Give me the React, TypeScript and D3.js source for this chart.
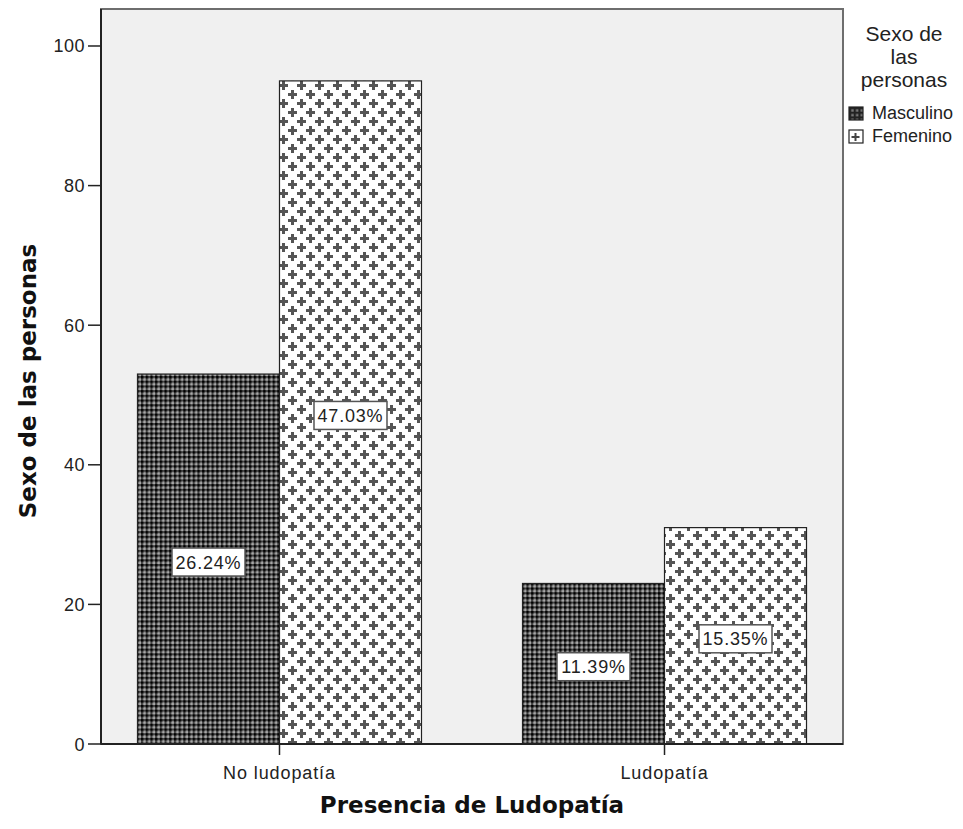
import React from "react";
import * as d3 from "d3";

const categories = ["No ludopatía", "Ludopatía"];
const series = ["Masculino", "Femenino"];
const masculino = [53, 23];
const femenino = [95, 31];
const labelsMasc = ["26.24%", "11.39%"];
const labelsFem = ["47.03%", "15.35%"];
const yTicks = [0, 20, 40, 60, 80, 100];
const legendTitle = ["Sexo de", "las", "personas"];

const W = 963, H = 829;
const L = 101, R = 843, T = 9, B = 744;

export default function App() {
  const x = d3.scalePoint<string>().domain(categories).range([L, R]).padding(0.4636);
  const groupW = 284;
  const sub = d3.scaleBand<string>().domain(series).range([-groupW / 2, groupW / 2]).padding(0);
  const y = d3.scaleLinear().domain([0, 105.3]).range([B, T]);
  const values = [masculino, femenino];
  const labels = [labelsMasc, labelsFem];
  const fills = ["url(#patM)", "url(#patF)"];
  const font = "'Liberation Sans', Arial, sans-serif";
  const bold = "'DejaVu Sans', sans-serif";

  return (
    <svg width={W} height={H} style={{ position: "absolute", left: 0, top: 0, background: "#fff" }}>
      <defs>
        <pattern id="patM" patternUnits="userSpaceOnUse" width={4.7} height={4.7}>
          <rect width={4.7} height={4.7} fill="#a8a8a8" />
          <rect width={2.2} height={4.7} fill="#444" />
          <rect width={4.7} height={2.2} fill="#444" />
          <rect width={2.4} height={2.4} fill="#000" />
        </pattern>
        <pattern id="patF" patternUnits="userSpaceOnUse" width={18} height={18}>
          <rect width={18} height={18} fill="#fff" />
          <g fill="#555">
            <rect x={3} y={0} width={3} height={9} />
            <rect x={0} y={3} width={9} height={3} />
            <rect x={12} y={9} width={3} height={9} />
            <rect x={9} y={12} width={9} height={3} />
          </g>
        </pattern>
        <pattern id="patFL" patternUnits="userSpaceOnUse" width={14} height={14} x={849} y={130}>
          <rect width={14} height={14} fill="#fff" />
          <g fill="#444">
            <rect x={5.5} y={3} width={2} height={8} />
            <rect x={2.5} y={6} width={8} height={2} />
          </g>
        </pattern>
        <pattern id="patML" patternUnits="userSpaceOnUse" width={4.7} height={4.7} x={849} y={107}>
          <rect width={4.7} height={4.7} fill="#777" />
          <rect width={2.2} height={4.7} fill="#222" />
          <rect width={4.7} height={2.2} fill="#222" />
        </pattern>
      </defs>
      <rect x={L} y={T} width={R - L} height={B - T} fill="#f0f0f0" stroke="#6e6e6e" strokeWidth={2} />
      {categories.map((c, i) =>
        series.map((s, j) => {
          const v = values[j][i];
          const bx = (x(c) as number) + (sub(s) as number);
          const bw = sub.bandwidth();
          return (
            <rect key={c + s} x={bx} y={y(v)} width={bw} height={B - y(v)} fill={fills[j]} stroke="#222" strokeWidth={1.2} />
          );
        })
      )}
      {categories.map((c, i) =>
        series.map((s, j) => {
          const v = values[j][i];
          const cx = (x(c) as number) + (sub(s) as number) + sub.bandwidth() / 2;
          const cy = y(v / 2) + 3;
          const bw = 73, bh = 28;
          return (
            <g key={"l" + c + s}>
              <rect x={cx - bw / 2} y={cy - bh / 2} width={bw} height={bh} fill="#fff" stroke="#555" strokeWidth={1.5} />
              <text x={cx} y={cy + 6.5} textAnchor="middle" fontFamily={font} fontSize={18} letterSpacing={0.8} fill="#222">{labels[j][i]}</text>
            </g>
          );
        })
      )}
      <line x1={L} x2={L} y1={T} y2={B} stroke="#222" strokeWidth={2} />
      <line x1={L} x2={R} y1={B} y2={B} stroke="#222" strokeWidth={2} />
      {yTicks.map((t) => (
        <g key={t}>
          <line x1={L - 13} x2={L} y1={y(t)} y2={y(t)} stroke="#222" strokeWidth={1.5} />
          <text x={L - 16} y={y(t) + 6.5} textAnchor="end" fontFamily={font} fontSize={18} letterSpacing={0.5} fill="#222">{t}</text>
        </g>
      ))}
      {categories.map((c) => (
        <g key={"t" + c}>
          <line x1={x(c) as number} x2={x(c) as number} y1={B} y2={B + 11} stroke="#222" strokeWidth={1.5} />
          <text x={x(c) as number} y={B + 35} textAnchor="middle" fontFamily={font} fontSize={18} letterSpacing={0.9} fill="#222">{c}</text>
        </g>
      ))}
      <text x={(L + R) / 2} y={813} textAnchor="middle" fontFamily={bold} fontWeight="bold" fontSize={23} fill="#111">Presencia de Ludopatía</text>
      <text transform={`translate(36, 381) rotate(-90)`} textAnchor="middle" fontFamily={bold} fontWeight="bold" fontSize={23} fill="#111">Sexo de las personas</text>
      <g fontFamily={font} fill="#222">
        {legendTitle.map((t, i) => (
          <text key={t} x={904} y={41 + i * 23} textAnchor="middle" fontSize={21}>{t}</text>
        ))}
        {series.map((s, j) => (
          <g key={"lg" + s}>
            <rect x={849} y={107 + j * 23} width={14} height={13} fill={j === 0 ? "url(#patML)" : "url(#patFL)"} stroke="#222" strokeWidth={1.2} />
            <text x={872} y={119 + j * 23} fontSize={18}>{s}</text>
          </g>
        ))}
      </g>
    </svg>
  );
}
